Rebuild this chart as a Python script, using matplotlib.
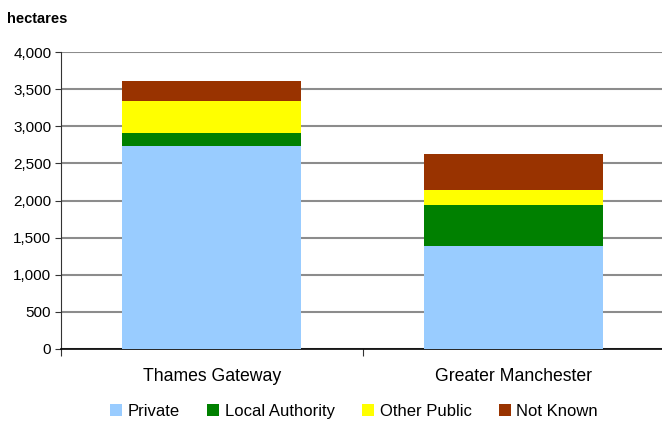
import matplotlib
matplotlib.use("Agg")
import matplotlib.pyplot as plt
import numpy as np

categories = ["Thames Gateway", "Greater Manchester"]
series_names = ["Private", "Local Authority", "Other Public", "Not Known"]
private = [2730, 1385]
local_authority = [175, 555]
other_public = [430, 200]
not_known = [270, 485]
colors = ["#99CCFF", "#008000", "#FFFF00", "#993300"]
yticks = [0, 500, 1000, 1500, 2000, 2500, 3000, 3500, 4000]

plt.rcParams['font.family'] = ['Liberation Sans', 'DejaVu Sans']

fig = plt.figure(figsize=(6.62, 4.21), dpi=100)
ax = fig.add_axes([61/662, 1-349/421, 603/662, (349-52)/421])

x = np.arange(len(categories))
bottom = np.zeros(len(categories))
handles = []
for vals, name, c in zip([private, local_authority, other_public, not_known], series_names, colors):
    b = ax.bar(x, vals, width=0.595, bottom=bottom, color=c, label=name, zorder=3)
    handles.append(b)
    bottom += np.array(vals)

ax.set_xlim(-0.5, 1.5)
ax.set_ylim(0, 4000)
ax.set_yticks(yticks)
ax.set_yticklabels([f"{v:,}" for v in yticks], fontsize=11)
ax.yaxis.grid(True, color="#8c8c8c", linewidth=1.5, zorder=0)
ax.set_axisbelow(True)
ax.set_xticks([-0.5, 0.5, 1.5])
ax.set_xticklabels([])
ax.tick_params(axis='x', length=5, color="#333333", direction='out')
ax.tick_params(axis='y', length=4, color="#333333", direction='out', pad=3)
for i, c in enumerate(categories):
    ax.text(i, -0.065, c, transform=ax.get_xaxis_transform(), ha='center', va='top', fontsize=12.7)
for s in ['top', 'right']:
    ax.spines[s].set_visible(False)
ax.spines['left'].set_color("#333333")
ax.spines['bottom'].set_color("#000000")
ax.spines['bottom'].set_linewidth(1.2)

fig.text(7/662, 1-19/421, "hectares", fontsize=10.5, fontweight='bold', va='center', ha='left')

fig.legend(handles=handles, labels=series_names, loc='center', bbox_to_anchor=(354/662, 1-411.5/421),
           ncol=4, frameon=False, fontsize=12, handlelength=0.7, handleheight=0.7,
           handletextpad=0.35, columnspacing=1.65, borderpad=0, borderaxespad=0)

fig.savefig("out.png", dpi=100)
